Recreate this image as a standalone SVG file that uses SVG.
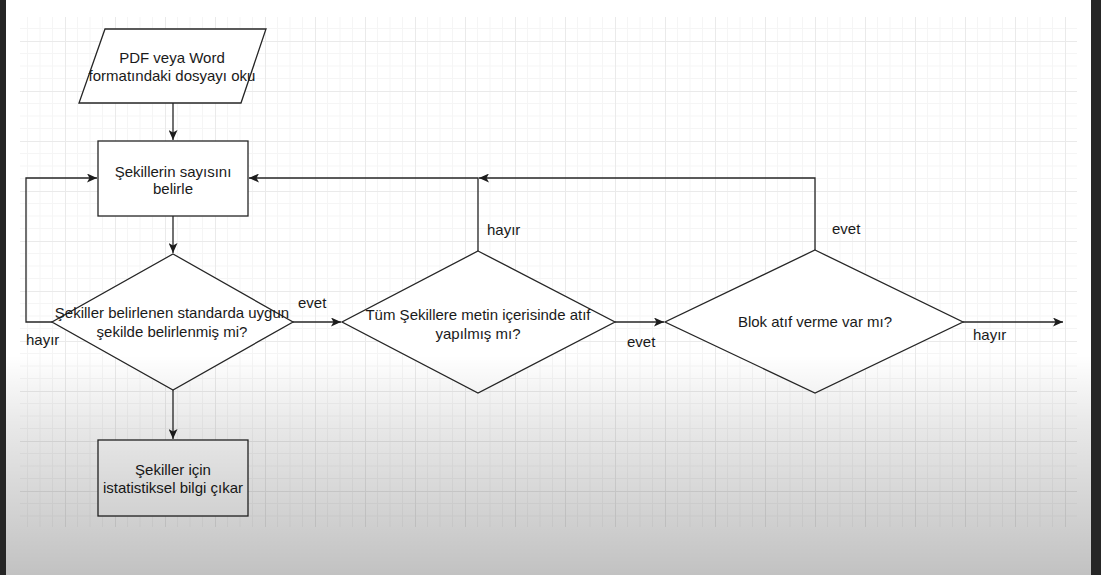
<svg xmlns="http://www.w3.org/2000/svg" width="1101" height="575" viewBox="0 0 1101 575">
<defs>
<style>
.node{fill:#ffffff;stroke:#262626;stroke-width:1.3}
.edge{fill:none;stroke:#262626;stroke-width:1.3}
.t{font-family:"Liberation Sans",Arial,Helvetica,sans-serif;font-size:15px;fill:#1a1a1a}
.c{text-anchor:middle}
.mj{stroke:#eaeaea;stroke-width:1}
.mn{stroke:#f5f5f5;stroke-width:1}
</style>
<pattern id="grid" patternUnits="userSpaceOnUse" x="15" y="-9" width="50" height="50">
<path class="mn" d="M12.5 0V50M25 0V50M37.5 0V50M0 12.5H50M0 25H50M0 37.5H50"/>
<path class="mj" d="M0.5 0V50M0 0.5H50"/>
</pattern>
<linearGradient id="shade" gradientUnits="userSpaceOnUse" x1="0" y1="355" x2="0" y2="575">
<stop offset="0" stop-color="#000" stop-opacity="0"/>
<stop offset="0.32" stop-color="#000" stop-opacity="0.09"/>
<stop offset="1" stop-color="#000" stop-opacity="0.24"/>
</linearGradient>
<marker id="arr" markerUnits="userSpaceOnUse" markerWidth="11" markerHeight="9" refX="10" refY="4.5" orient="auto">
<path d="M0 0L10 4.5L0 9L2.5 4.5Z" fill="#1c1c1c"/>
</marker>
</defs>
<rect width="1101" height="575" fill="#ffffff"/>
<rect x="20" y="17" width="1057" height="510" fill="url(#grid)"/>
<g id="connectors">
<path class="edge" d="M173 103V140" marker-end="url(#arr)"/>
<path class="edge" d="M173 216V253" marker-end="url(#arr)"/>
<path class="edge" d="M52 322H26V178H97" marker-end="url(#arr)"/>
<path class="edge" d="M173 390V439" marker-end="url(#arr)"/>
<path class="edge" d="M293 322H341" marker-end="url(#arr)"/>
<path class="edge" d="M615 322H664" marker-end="url(#arr)"/>
<path class="edge" d="M963 322H1063" marker-end="url(#arr)"/>
<path class="edge" d="M478 251V178H249" marker-end="url(#arr)"/>
<path class="edge" d="M815 250V178H479" marker-end="url(#arr)"/>
<text class="t" x="26" y="345">hayır</text>
<text class="t" x="298" y="308">evet</text>
<text class="t" x="487" y="235">hayır</text>
<text class="t" x="627" y="347">evet</text>
<text class="t" x="832" y="234">evet</text>
<text class="t" x="973" y="340">hayır</text>
</g>
<g id="read-file">
<polygon class="node" points="105,29 266,29 241,103 79,103"/>
<text class="t c" x="172" y="63">PDF veya Word</text>
<text class="t c" x="172" y="81">formatındaki dosyayı oku</text>
</g>
<g id="count-figures">
<rect class="node" x="98" y="141" width="150" height="75"/>
<text class="t c" x="173" y="177">Şekillerin sayısını</text>
<text class="t c" x="173" y="194">belirle</text>
</g>
<g id="standard-check">
<polygon class="node" points="173,254 293,322 173,390 52,322"/>
<text class="t c" x="172" y="318">Şekiller belirlenen standarda uygun</text>
<text class="t c" x="172" y="337">şekilde belirlenmiş mi?</text>
</g>
<g id="statistics">
<rect class="node" x="98" y="440" width="150" height="76"/>
<text class="t c" x="173" y="475">Şekiller için</text>
<text class="t c" x="173" y="493">istatistiksel bilgi çıkar</text>
</g>
<g id="citation-check">
<polygon class="node" points="478,251 615,322 478,393 342,322"/>
<text class="t c" x="478" y="320">Tüm Şekillere metin içerisinde atıf</text>
<text class="t c" x="478" y="339">yapılmış mı?</text>
</g>
<g id="block-citation">
<polygon class="node" points="815,250 963,322 815,393 665,322"/>
<text class="t c" x="815" y="327">Blok atıf verme var mı?</text>
</g>
<rect x="0" y="0" width="1101" height="575" fill="url(#shade)"/>
<rect x="0" y="0" width="6" height="575" fill="#262626"/>
<rect x="1091" y="0" width="10" height="575" fill="#262626"/>
</svg>
